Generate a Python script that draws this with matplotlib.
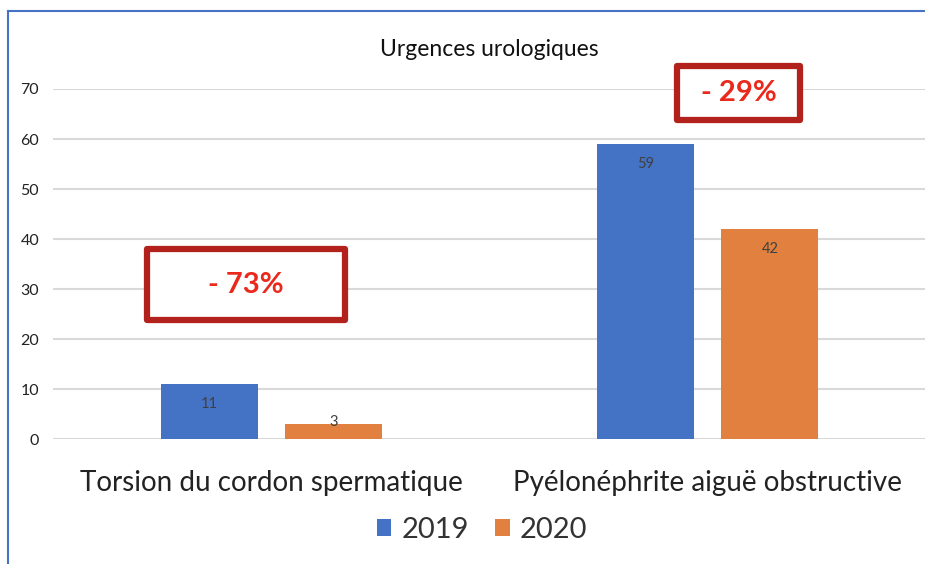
import matplotlib.pyplot as plt
import numpy as np
from matplotlib.patches import Rectangle
from matplotlib.lines import Line2D

plt.rcParams['font.family'] = ['Lato', 'DejaVu Sans']

categories = ['Torsion du cordon spermatique', 'Pyélonéphrite aiguë obstructive']
years = ['2019', '2020']
v2019 = [11, 59]
v2020 = [3, 42]
changes = ['- 73%', '- 29%']

fig = plt.figure(figsize=(9.25, 5.64), dpi=100)
ax = fig.add_axes([0.0573, 0.2216, 0.944, 0.6206])

ind = np.arange(len(categories))
width = 0.222
gap = 0.062
off = (width + gap) / 2
b1 = ax.bar(ind - off, v2019, width, color='#4472C4', zorder=3)
b2 = ax.bar(ind + off, v2020, width, color='#E2813F', zorder=3)

# data labels near top of bars (small bars: label sits on the bar edge)
for rects, vals in ((b1, v2019), (b2, v2020)):
    for r, v in zip(rects, vals):
        yl = v - 4.0 if v > 5 else v + 0.4
        ax.text(r.get_x() + r.get_width() / 2, yl, str(v), ha='center',
                va='center', fontsize=10.5, color='#404040', zorder=4)

ax.set_xlim(-0.5, 1.5)
ax.set_ylim(0, 70)
ax.set_yticks(range(0, 80, 10))
ax.yaxis.grid(True, color='#D9D9D9', linewidth=1.5, zorder=0)
ax.tick_params(axis='y', length=0, labelsize=11.5, pad=10, labelcolor='#222222')
ax.tick_params(axis='x', length=0, labelsize=20, pad=22, labelcolor='#222222')
ax.set_xticks(ind)
ax.set_xticklabels(categories)
for s in ax.spines.values():
    s.set_visible(False)

ax.set_title('Urgences urologiques', fontsize=16.5, color='#111111', pad=24)

# red boxes with percentages
boxes = [(-0.285, 23.8, 0.454, 14.2), (0.93, 63.8, 0.281, 10.8)]
for (bx, by, bw, bh), txt in zip(boxes, changes):
    ax.add_patch(Rectangle((bx, by), bw, bh, fill=True, facecolor='white',
                           edgecolor='#B2211B', linewidth=4.5,
                           joinstyle='round', clip_on=False, zorder=5))
    ax.text(bx + bw / 2, by + bh / 2, txt, ha='center', va='center',
            fontsize=21, fontweight='bold', color='#E8291C', zorder=6,
            clip_on=False)

fig.legend([b1[0], b2[0]], years, loc='center', ncol=2, frameon=False,
           bbox_to_anchor=(482 / 925, 1 - 530 / 564), fontsize=21,
           handlelength=0.5, handleheight=0.5, handletextpad=0.35,
           columnspacing=0.9, labelcolor='#333333')

# outer frame (left and top edges)
fig.add_artist(Line2D([8 / 925, 8 / 925], [0, 1 - 11 / 564], color='#4472C4',
                      linewidth=1.5, transform=fig.transFigure))
fig.add_artist(Line2D([8 / 925, 1], [1 - 11 / 564, 1 - 11 / 564],
                      color='#4472C4', linewidth=1.5, transform=fig.transFigure))

fig.savefig('out.png', dpi=100)
